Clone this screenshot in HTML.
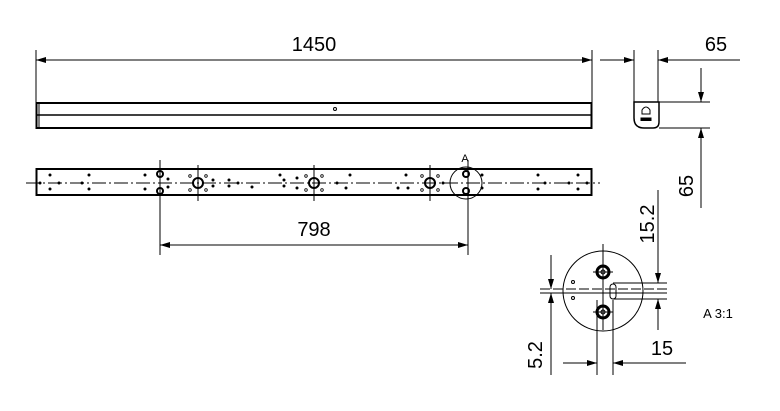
<!DOCTYPE html>
<html><head><style>html,body{margin:0;padding:0;background:#fff}</style></head><body>
<svg width="780" height="406" viewBox="0 0 780 406" xmlns="http://www.w3.org/2000/svg" font-family="Liberation Sans, sans-serif">
<defs>
<marker id="a" viewBox="0 0 10 6" refX="10" refY="3" markerWidth="10" markerHeight="6" orient="auto-start-reverse" markerUnits="userSpaceOnUse"><path d="M0,0L10,3L0,6z" fill="#000"/></marker>
</defs>
<g stroke="#000" fill="none" stroke-width="1">
<line x1="36" y1="50" x2="36" y2="103"/><line x1="592" y1="50" x2="592" y2="103"/>
<line x1="36" y1="60" x2="592" y2="60" marker-start="url(#a)" marker-end="url(#a)"/>
<rect x="36.5" y="103" width="555" height="25" stroke-width="2"/>
<line x1="37" y1="115" x2="591" y2="115" stroke-width="1.5"/>
<line x1="39" y1="104" x2="39" y2="127"/>
<circle cx="335" cy="109" r="1.5"/>
<rect x="36.5" y="169" width="555" height="26" stroke-width="2"/>
<line x1="26" y1="183" x2="600" y2="183" stroke-dasharray="14,3,2,3"/>
<line x1="160" y1="160" x2="160" y2="255"/>
<line x1="468" y1="160" x2="468" y2="255"/>
<line x1="160" y1="245" x2="468" y2="245" marker-start="url(#a)" marker-end="url(#a)"/>
<g stroke-width="2"><circle cx="160" cy="174" r="3"/><circle cx="160" cy="191" r="3"/>
<circle cx="198" cy="183" r="5"/><circle cx="314" cy="183" r="5"/><circle cx="430" cy="183" r="5"/>
<circle cx="466" cy="174" r="3"/><circle cx="466" cy="191" r="3"/></g>
<line x1="198" y1="165" x2="198" y2="201"/><line x1="314" y1="165" x2="314" y2="201"/><line x1="430" y1="165" x2="430" y2="201"/>
<circle cx="466" cy="183" r="16"/>
<g stroke-width="0.8">
<circle cx="190" cy="176" r="1.3"/><circle cx="206" cy="176" r="1.3"/><circle cx="190" cy="190" r="1.3"/><circle cx="206" cy="190" r="1.3"/>
<circle cx="306" cy="176" r="1.3"/><circle cx="322" cy="176" r="1.3"/><circle cx="306" cy="190" r="1.3"/><circle cx="322" cy="190" r="1.3"/>
<circle cx="422" cy="176" r="1.3"/><circle cx="438" cy="176" r="1.3"/><circle cx="422" cy="190" r="1.3"/><circle cx="438" cy="190" r="1.3"/>
</g>
<path d="M634,102H659V122Q659,128 653,128H644Q634,128 634,118Z" stroke-width="1.5"/>
<line x1="634" y1="50" x2="634" y2="102"/><line x1="658" y1="50" x2="658" y2="102"/>
<line x1="600" y1="60" x2="634" y2="60" marker-end="url(#a)"/>
<line x1="658" y1="60" x2="740" y2="60"/>
<line x1="683" y1="60" x2="658" y2="60" marker-end="url(#a)"/>
<path d="M642,114V110Q646,104 650,110V114Z"/>
<rect x="641" y="118" width="10" height="2.5" fill="#000"/>
<line x1="659" y1="102" x2="710" y2="102"/><line x1="659" y1="128" x2="710" y2="128"/>
<line x1="701" y1="68" x2="701" y2="102" marker-end="url(#a)"/>
<line x1="701" y1="208" x2="701" y2="128" marker-end="url(#a)"/>
<circle cx="603" cy="291" r="40"/>
<g stroke-width="3"><circle cx="603" cy="272" r="6"/><circle cx="603" cy="312" r="6"/></g>
<circle cx="603" cy="272" r="2"/><circle cx="603" cy="312" r="2"/>
<line x1="603" y1="244" x2="603" y2="330"/>
<line x1="593" y1="272" x2="613" y2="272"/><line x1="593" y1="312" x2="613" y2="312"/>
<circle cx="573" cy="282" r="1.5"/><circle cx="573" cy="298" r="1.5"/>
<rect x="610" y="284" width="6" height="15" rx="3"/>
<line x1="540" y1="289" x2="667" y2="289" stroke-dasharray="10,3"/>
<line x1="540" y1="293" x2="667" y2="293"/>
<line x1="613" y1="283" x2="667" y2="283"/><line x1="613" y1="299" x2="667" y2="299"/>
<line x1="597" y1="300" x2="597" y2="375"/><line x1="613" y1="300" x2="613" y2="375"/>
<line x1="563" y1="363" x2="597" y2="363" marker-end="url(#a)"/>
<line x1="640" y1="363" x2="613" y2="363" marker-end="url(#a)"/>
<line x1="613" y1="363" x2="686" y2="363"/>
<line x1="658" y1="190" x2="658" y2="283" marker-end="url(#a)"/>
<line x1="658" y1="330" x2="658" y2="299" marker-end="url(#a)"/>
<line x1="551" y1="255" x2="551" y2="289" marker-end="url(#a)"/>
<line x1="551" y1="375" x2="551" y2="293" marker-end="url(#a)"/>
</g>
<g fill="#000">
<circle cx="50" cy="175" r="1.5"/><circle cx="50" cy="189" r="1.5"/><circle cx="40" cy="183" r="1.5"/><circle cx="59" cy="183" r="1.5"/>
<circle cx="89" cy="175" r="1.5"/><circle cx="89" cy="189" r="1.5"/><circle cx="82" cy="183" r="1.5"/>
<circle cx="145" cy="175" r="1.5"/><circle cx="145" cy="189" r="1.5"/><circle cx="168" cy="179" r="1.5"/><circle cx="168" cy="187" r="1.5"/>
<circle cx="213" cy="180" r="1.5"/><circle cx="213" cy="186" r="1.5"/><circle cx="229" cy="180" r="1.5"/><circle cx="229" cy="186" r="1.5"/>
<circle cx="238" cy="183" r="1.5"/><circle cx="252" cy="187" r="1.5"/><circle cx="280" cy="175" r="1.5"/><circle cx="284" cy="180" r="1.5"/><circle cx="284" cy="186" r="1.5"/>
<circle cx="297" cy="178" r="1.5"/><circle cx="297" cy="188" r="1.5"/><circle cx="337" cy="183" r="1.5"/><circle cx="350" cy="175" r="1.5"/><circle cx="346" cy="188" r="1.5"/>
<circle cx="398" cy="188" r="1.5"/><circle cx="406" cy="175" r="1.5"/><circle cx="408" cy="188" r="1.5"/><circle cx="443" cy="183" r="1.5"/>
<circle cx="482" cy="175" r="1.5"/><circle cx="482" cy="188" r="1.5"/><circle cx="538" cy="175" r="1.5"/><circle cx="538" cy="189" r="1.5"/><circle cx="545" cy="183" r="1.5"/>
<circle cx="578" cy="175" r="1.5"/><circle cx="578" cy="189" r="1.5"/><circle cx="569" cy="183" r="1.5"/><circle cx="587" cy="183" r="1.5"/>
</g>
<g font-size="20" fill="#000">
<text x="314" y="51" text-anchor="middle">1450</text>
<text x="314" y="236" text-anchor="middle">798</text>
<text x="716" y="51" text-anchor="middle">65</text>
<text x="662" y="355" text-anchor="middle">15</text>
<text transform="translate(693,186) rotate(-90)" text-anchor="middle">65</text>
<text transform="translate(654,224) rotate(-90)" text-anchor="middle">15.2</text>
<text transform="translate(542,355) rotate(-90)" text-anchor="middle">5.2</text>
</g>
<text x="465" y="162" font-size="11" fill="#000" text-anchor="middle">A</text>
<text x="718" y="318" font-size="13" fill="#000" text-anchor="middle">A 3:1</text>
</svg>
</body></html>
